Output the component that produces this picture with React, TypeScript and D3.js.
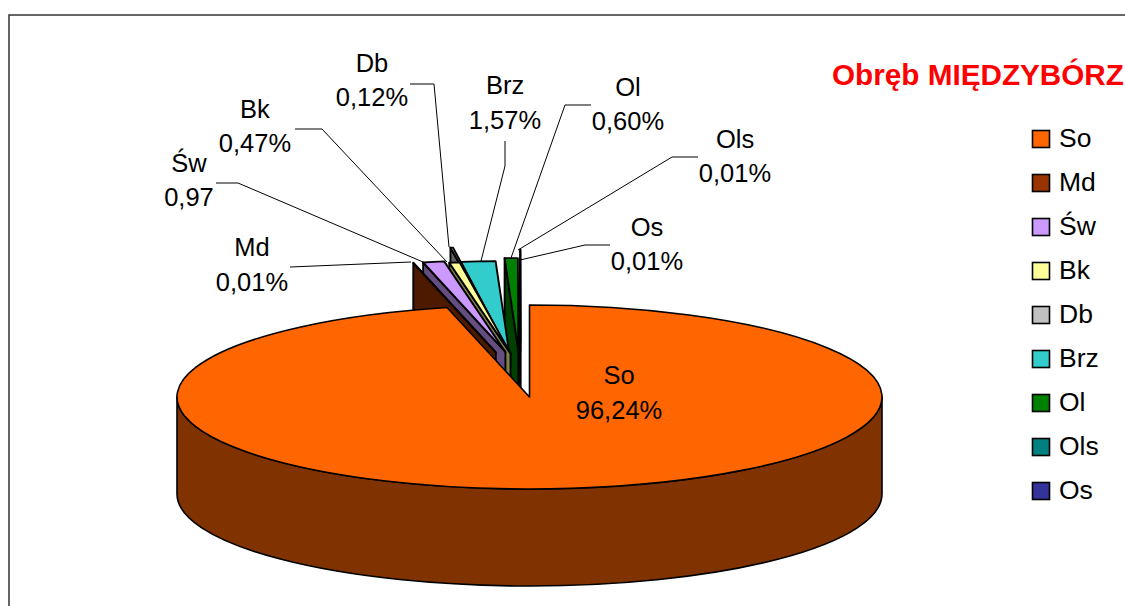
import React from "react";
import * as d3 from "d3";

const species = ["So", "Md", "Św", "Bk", "Db", "Brz", "Ol", "Ols", "Os"];
const shares = [96.24, 0.01, 0.97, 0.47, 0.12, 1.57, 0.6, 0.01, 0.01];
const shareLabels = ["96,24%", "0,01%", "0,97", "0,47%", "0,12%", "1,57%", "0,60%", "0,01%", "0,01%"];
const colors = ["#ff6600", "#993300", "#cc99ff", "#ffff99", "#c0c0c0", "#33cccc", "#008000", "#008080", "#333399"];
// how far each slice is pulled out of the pie, as a share of the radius
const explosion = [0, 0.5, 0.5, 0.48, 0.64, 0.48, 0.51, 0.5, 0.6];
// sideways part of that pull (the 3d view flattens it)
const lateral = [0, 0.6, 0.42, 0.37, 0.6, 0.75, 0.6, 0.6, 0.6];

// label centre (x, first line y, second line y) and leader polyline
const labelPos = [
  [619, 375, 410],
  [252, 247, 282],
  [189, 163, 197],
  [255, 109, 143],
  [372, 63, 97],
  [505, 85, 120],
  [628, 87, 121],
  [735, 139, 173],
  [647, 227, 261],
];
const leaders = [
  [],
  [[290, 267], [411, 262]],
  [[216, 183], [238, 183], [423, 262]],
  [[295, 129], [322, 129], [447, 262]],
  [[410, 84], [434, 84], [449, 247]],
  [[505, 141], [505, 166], [481, 261]],
  [[591, 105], [565, 105], [511, 258]],
  [[698, 157], [672, 157], [518, 250]],
  [[610, 245], [585, 245], [520, 260]],
];

const width = 1125;
const height = 606;
const cx = 529.5;
const cy = 397;
const rx = 352.5;
const ry = 92;
const depth = 97;
const fontFamily = "'Liberation Sans', Arial, sans-serif";

const slices = d3
  .pie<number>()
  .sort(null)
  .startAngle(0)
  .endAngle(2 * Math.PI)(shares);

const scaleX = d3.scaleLinear().domain([-1, 1]).range([-rx, rx]);
const scaleY = d3.scaleLinear().domain([-1, 1]).range([-ry, ry]);
const legendY = d3.scalePoint<string>().domain(species).range([139, 491]);

const rimPoint = (angle: number, ax: number, ay: number) => [
  ax + scaleX(Math.sin(angle)),
  ay + scaleY(-Math.cos(angle)),
];

const shade = (c: string) => {
  const k = d3.rgb(c);
  return d3.rgb(k.r * 0.5, k.g * 0.5, k.b * 0.5).formatHex();
};

// apex of a slice after it has been pulled out
const apexOf = (i: number) => {
  const e = explosion[i];
  if (e === 0) return [cx, cy];
  const mid = (slices[i].startAngle + slices[i].endAngle) / 2;
  return [
    cx - 9 + e * lateral[i] * scaleX(Math.sin(mid)),
    cy + e * scaleY(-Math.cos(mid)),
  ];
};

const topPath = (i: number) => {
  const [ax, ay] = apexOf(i);
  const [x0, y0] = rimPoint(slices[i].startAngle, ax, ay);
  const [x1, y1] = rimPoint(slices[i].endAngle, ax, ay);
  const large = slices[i].endAngle - slices[i].startAngle > Math.PI ? 1 : 0;
  return `M${ax},${ay}L${x0},${y0}A${rx},${ry} 0 ${large} 1 ${x1},${y1}Z`;
};

const facePath = (i: number) => {
  const [ax, ay] = apexOf(i);
  const [x0, y0] = rimPoint(slices[i].startAngle, ax, ay);
  return `M${ax},${ay}L${x0},${y0}L${x0},${y0 + depth}L${ax},${ay + depth}Z`;
};

const wallPath = () => {
  const [xr, yr] = [cx + rx, cy];
  const [xl, yl] = [cx - rx, cy];
  return `M${xr},${yr}A${rx},${ry} 0 0 1 ${xl},${yl}L${xl},${yl + depth}A${rx},${ry} 0 0 0 ${xr},${yr + depth}Z`;
};

const leaderLine = d3.line();

export default function App() {
  const small = d3.range(species.length - 1, 0, -1);
  return (
    <svg
      width={width}
      height={height}
      style={{ position: "absolute", left: 0, top: 0, display: "block", background: "#fff" }}
      fontFamily={fontFamily}
    >
      <path d={`M9,${height + 5}V15H${width + 5}`} fill="none" stroke="#333" strokeWidth={1.5} />

      {small.map((i) => (
        <g key={species[i]} stroke="#000" strokeWidth={1.9} strokeLinejoin="round">
          <path d={facePath(i)} fill={shade(colors[i])} />
          <path d={topPath(i)} fill={colors[i]} />
        </g>
      ))}

      <g stroke="#000" strokeWidth={1.6} strokeLinejoin="round">
        <path d={wallPath()} fill={shade(colors[0])} />
        <path d={topPath(0)} fill={colors[0]} />
      </g>

      {leaders.map((pts, i) =>
        pts.length ? (
          <path
            key={species[i]}
            d={leaderLine(pts as [number, number][]) as string}
            fill="none"
            stroke="#000"
            strokeWidth={1}
          />
        ) : null
      )}

      {species.map((name, i) => (
        <g key={name} fontSize={25.5} textAnchor="middle" fill="#000">
          <text x={labelPos[i][0]} y={labelPos[i][1]} dy="0.36em">{name}</text>
          <text x={labelPos[i][0]} y={labelPos[i][2]} dy="0.36em">{shareLabels[i]}</text>
        </g>
      ))}

      <text x={832} y={85} fontSize={29.7} fontWeight="bold" fill="#ff0000">
        Obręb MIĘDZYBÓRZ
      </text>

      {species.map((name, i) => (
        <g key={name}>
          <rect
            x={1032.5}
            y={(legendY(name) as number) - 8.5}
            width={17}
            height={17}
            fill={colors[i]}
            stroke="#000"
            strokeWidth={1.6}
          />
          <text x={1059} y={legendY(name)} dy="0.32em" fontSize={26.5} fill="#000">
            {name}
          </text>
        </g>
      ))}
    </svg>
  );
}
